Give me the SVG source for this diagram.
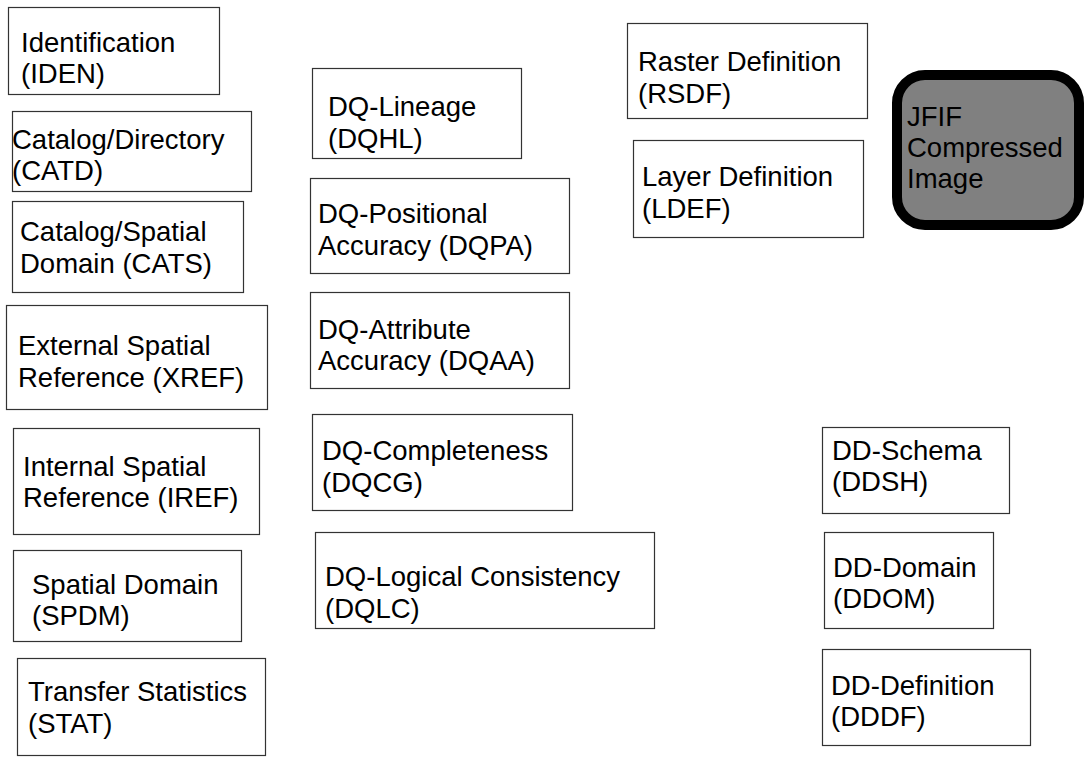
<svg xmlns="http://www.w3.org/2000/svg" width="1087" height="759" viewBox="0 0 1087 759">
  <style>
    .box { fill: #ffffff; stroke: #333333; stroke-width: 1.2; }
    .img { fill: #808080; stroke: #000000; stroke-width: 10; }
    text { font-family: "Liberation Sans", Arial, sans-serif; font-size: 27.5px; fill: #000000; }
  </style>
  <rect width="1087" height="759" fill="#ffffff"/>

  <!-- left column: general modules -->
  <g id="iden"><rect class="box" x="8.5" y="7.5" width="211" height="87"/>
    <text x="21" y="52">Identification</text><text x="21" y="83">(IDEN)</text></g>
  <g id="catd"><rect class="box" x="12.5" y="111.5" width="239" height="80"/>
    <text x="12" y="149">Catalog/Directory</text><text x="12" y="180">(CATD)</text></g>
  <g id="cats"><rect class="box" x="12.5" y="201.5" width="231" height="91"/>
    <text x="20" y="241">Catalog/Spatial</text><text x="20" y="273">Domain (CATS)</text></g>
  <g id="xref"><rect class="box" x="6.5" y="305.5" width="261" height="104"/>
    <text x="18" y="355">External Spatial</text><text x="18" y="387">Reference (XREF)</text></g>
  <g id="iref"><rect class="box" x="13.5" y="428.5" width="246" height="106"/>
    <text x="23" y="476">Internal Spatial</text><text x="23" y="507">Reference (IREF)</text></g>
  <g id="spdm"><rect class="box" x="13.5" y="550.5" width="228" height="91"/>
    <text x="32" y="594">Spatial Domain</text><text x="32" y="625">(SPDM)</text></g>
  <g id="stat"><rect class="box" x="17.5" y="658.5" width="248" height="97"/>
    <text x="28" y="701">Transfer Statistics</text><text x="28" y="733">(STAT)</text></g>

  <!-- middle column: data quality modules -->
  <g id="dqhl"><rect class="box" x="312.5" y="68.5" width="209" height="90"/>
    <text x="328" y="116">DQ-Lineage</text><text x="328" y="148">(DQHL)</text></g>
  <g id="dqpa"><rect class="box" x="310.5" y="178.5" width="259" height="95"/>
    <text x="318" y="223">DQ-Positional</text><text x="318" y="255">Accuracy (DQPA)</text></g>
  <g id="dqaa"><rect class="box" x="310.5" y="292.5" width="259" height="96"/>
    <text x="318" y="339">DQ-Attribute</text><text x="318" y="370">Accuracy (DQAA)</text></g>
  <g id="dqcg"><rect class="box" x="312.5" y="414.5" width="260" height="96"/>
    <text x="322" y="460">DQ-Completeness</text><text x="322" y="492">(DQCG)</text></g>
  <g id="dqlc"><rect class="box" x="315.5" y="532.5" width="339" height="96"/>
    <text x="325" y="586">DQ-Logical Consistency</text><text x="325" y="618">(DQLC)</text></g>

  <!-- raster modules -->
  <g id="rsdf"><rect class="box" x="627.5" y="23.5" width="240" height="95"/>
    <text x="638" y="71">Raster Definition</text><text x="638" y="103">(RSDF)</text></g>
  <g id="ldef"><rect class="box" x="633.5" y="140.5" width="230" height="97"/>
    <text x="642" y="186">Layer Definition</text><text x="642" y="218">(LDEF)</text></g>
  <g id="jfif"><rect class="img" x="897" y="75" width="182" height="150" rx="28" ry="28"/>
    <text x="907" y="126">JFIF</text><text x="907" y="157">Compressed</text><text x="907" y="188">Image</text></g>

  <!-- data dictionary modules -->
  <g id="ddsh"><rect class="box" x="822.5" y="427.5" width="187" height="86"/>
    <text x="832" y="460">DD-Schema</text><text x="832" y="491">(DDSH)</text></g>
  <g id="ddom"><rect class="box" x="824.5" y="532.5" width="169" height="96"/>
    <text x="833" y="577">DD-Domain</text><text x="833" y="608">(DDOM)</text></g>
  <g id="dddf"><rect class="box" x="822.5" y="649.5" width="208" height="96"/>
    <text x="831" y="695">DD-Definition</text><text x="831" y="726">(DDDF)</text></g>

  <g id="connectors"></g>
</svg>
